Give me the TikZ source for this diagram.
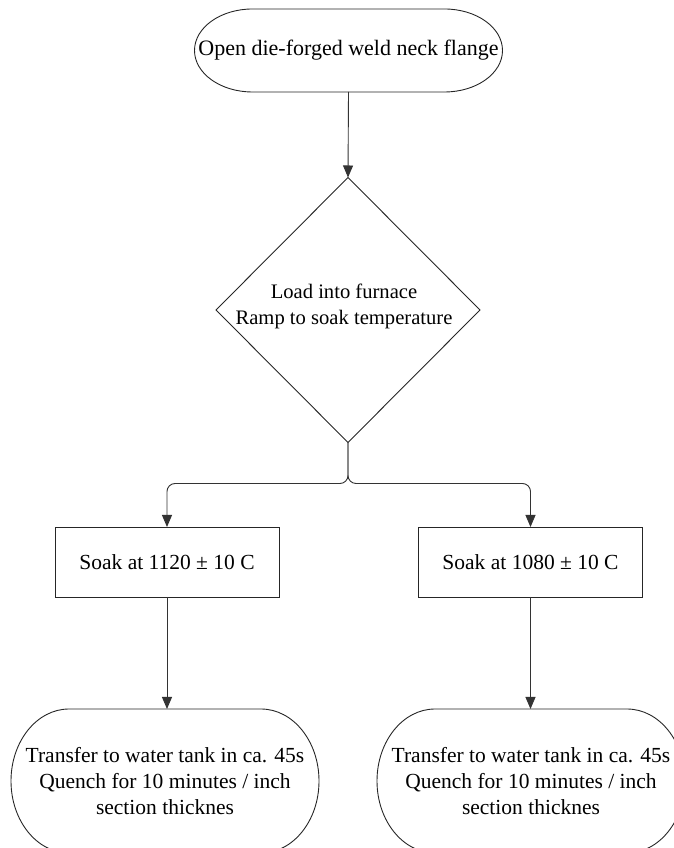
\documentclass[tikz,border=0pt]{standalone}
\usepackage{fontspec}
\setmainfont{Liberation Serif}
\usepackage{tikz}
\usetikzlibrary{arrows.meta,calc,shapes.geometric,positioning}

% half width of the rounded ends of a terminal
\newcommand{\capr}{58pt}

% outline of a terminal round a named node
\newcommand{\capsule}[1]{%
	\draw[shapeline] let \p1 = ($(#1.north)-(#1.south)$) in
	($(#1.north west)+(\capr,0pt)$) -- ($(#1.north east)+(-\capr,0pt)$)
	arc[start angle=90,end angle=-90,x radius=\capr,y radius=0.5*\y1]
	-- ($(#1.south west)+(\capr,0pt)$)
	arc[start angle=270,end angle=90,x radius=\capr,y radius=0.5*\y1]
	-- cycle;}

\tikzset{
	shapeline/.style={line width=0.9pt,draw=black!85},
	flow/.style={line width=0.9pt,draw=black!80,-{Triangle[width=10pt,length=12pt]}},
	terminal/.style={minimum width=308pt,align=center,inner sep=2pt,outer sep=0pt,
		font=\fontsize{21.5}{26}\selectfont},
	process/.style={draw=black!85,line width=0.9pt,minimum width=224pt,minimum height=70pt,
		align=center,outer sep=0pt,font=\fontsize{21.5}{26}\selectfont},
	decision/.style={diamond,draw=black!85,line width=0.9pt,inner sep=0pt,outer sep=0pt,
		minimum width=264pt,minimum height=265pt},
	decisiontext/.style={align=center,font=\fontsize{20.6}{26}\selectfont}
}

\begin{document}
	\begin{tikzpicture}[x=1pt,y=1pt]
		
		\useasboundingbox (0,0) rectangle (674,848);
		
		%----------------------------------------
		% Start
		%----------------------------------------
		\node[terminal,minimum height=83pt,font=\fontsize{22}{26}\selectfont]
		(open) at (348.5,797.5) {Open die-forged weld neck flange};
		\capsule{open}
		
		%----------------------------------------
		% Furnace
		%----------------------------------------
		\node[decision] (load) at (348,538) {};
		\node[decisiontext] (loadtext) at ($(load.center)+(-4,4)$)
		{Load into furnace\\Ramp to soak temperature};
		
		%----------------------------------------
		% Soak boxes
		%----------------------------------------
		\node[process] (soakA) at (167,286) {Soak at 1120 ± 10 C};
		\node[process] (soakB) at (530.5,286) {Soak at 1080 ± 10 C};
		
		%----------------------------------------
		% Quench
		%----------------------------------------
		\node[terminal,minimum height=144pt] (quenchA) at (165,67)
		{Transfer to water tank in ca. 45s\\Quench for 10 minutes / inch\\section thicknes};
		\capsule{quenchA}
		
		\node[terminal,minimum height=144pt] (quenchB) at (531,67)
		{Transfer to water tank in ca. 45s\\Quench for 10 minutes / inch\\section thicknes};
		\capsule{quenchB}
		
		%----------------------------------------
		% Connectors
		%----------------------------------------
		\coordinate (split) at ($(load.south)+(0,-41)$);
		
		\draw[flow] (open.south) -- (load.north);
		\draw[flow,rounded corners=8pt] (load.south) -- (split) -| (soakA.north);
		\draw[flow,rounded corners=8pt] (load.south) -- (split) -| (soakB.north);
		\draw[flow] (soakA.south) -- (soakA.south |- quenchA.north);
		\draw[flow] (soakB.south) -- (soakB.south |- quenchB.north);
		
	\end{tikzpicture}
\end{document}
